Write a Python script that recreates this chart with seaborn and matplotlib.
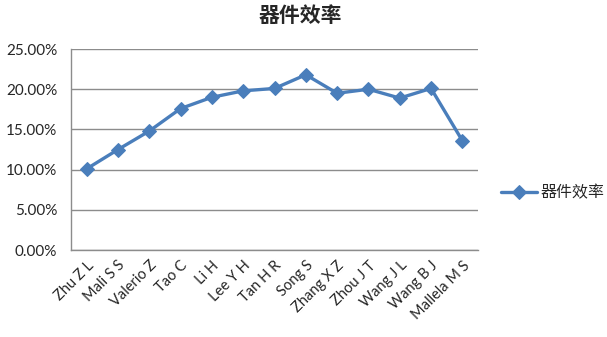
import matplotlib
matplotlib.use("Agg")
import matplotlib.pyplot as plt
import seaborn as sns
import pandas as pd
import numpy as np
from matplotlib.ticker import FuncFormatter, FixedLocator

authors = ["Zhu Z L", "Mali S S", "Valerio Z", "Tao C", "Li H", "Lee Y H", "Tan H R",
           "Song S", "Zhang X Z", "Zhou J T", "Wang J L", "Wang B J", "Mallela M S"]
efficiency = [10.1, 12.5, 14.8, 17.6, 19.0, 19.8, 20.1, 21.8, 19.5, 20.0, 18.9, 20.1, 13.6]
series_name = "器件效率"

df = pd.DataFrame({"pos": np.arange(len(authors)), "eff": efficiency})

sns.set_style("white")
plt.rcParams["font.family"] = ["Lato", "Noto Sans CJK SC", "DejaVu Sans"]

fig = plt.figure(figsize=(6.07, 3.37), dpi=100)
ax = fig.add_axes([0.117, 0.258, 0.6705, 0.5965])

sns.lineplot(data=df, x="pos", y="eff", ax=ax, color="#4a7ebb", linewidth=2.4,
             marker="D", markersize=7, markeredgecolor="#4a7ebb", label=series_name)

ax.set_xlim(-0.5, len(authors) - 0.5)
ax.set_ylim(0, 25)
ax.set_yticks(np.arange(0, 25.1, 5))
ax.yaxis.set_major_formatter(FuncFormatter(lambda v, p: f"{v:.2f}%"))
ax.yaxis.grid(True, color="#8c8c8c", linewidth=1)
ax.set_axisbelow(True)

ax.set_xticks(range(len(authors)))
ax.set_xticklabels(authors, rotation=45, ha="right", rotation_mode="anchor", fontsize=10.5)
ax.tick_params(axis="x", which="major", length=0, pad=6)
ax.xaxis.set_minor_locator(FixedLocator(np.arange(-0.5, len(authors), 1)))
ax.tick_params(axis="x", which="minor", length=5, color="#8c8c8c", width=1)
ax.tick_params(axis="y", length=0, labelsize=11, pad=10)

for s in ["top", "right"]:
    ax.spines[s].set_visible(False)
for s in ["left", "bottom"]:
    ax.spines[s].set_color("#8c8c8c")
    ax.spines[s].set_linewidth(1)

ax.set_xlabel("")
ax.set_ylabel("")

leg = ax.legend(loc="center left", bbox_to_anchor=(1.02, 0.285), frameon=False,
                fontsize=11.5, handlelength=2.3, handletextpad=0.2)

fig.suptitle(series_name, x=0.495, y=0.985, fontsize=15, fontweight="bold",
             family=["Noto Sans CJK SC", "DejaVu Sans"])

fig.savefig("out.png", dpi=100)
